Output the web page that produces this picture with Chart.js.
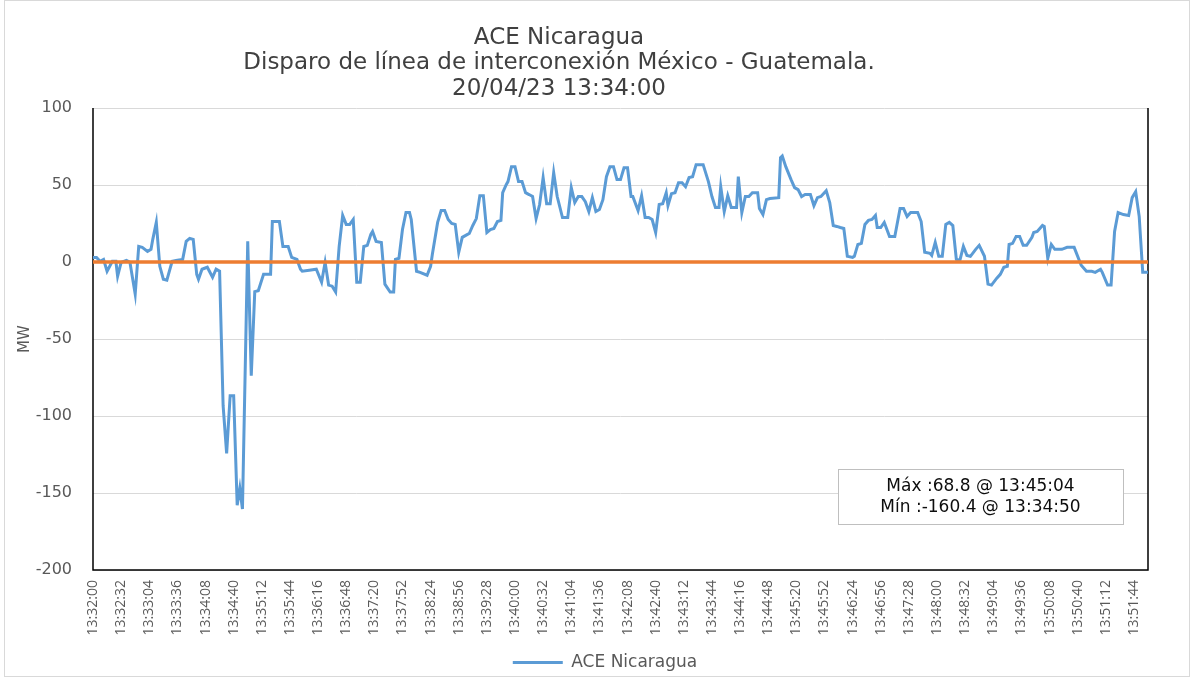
<!DOCTYPE html>
<html>
<head>
<meta charset="utf-8">
<title>ACE Nicaragua</title>
<script src="https://cdn.jsdelivr.net/npm/chart.js@4.4.1/dist/chart.umd.min.js"></script>
<style>
  html, body { margin: 0; padding: 0; background: #fff; }
  #wrap { width: 1194px; height: 677px; }
</style>
</head>
<body>
<div id="wrap"><canvas id="aceChart" width="1194" height="677"></canvas></div>
<script>
//! Chart data
const titleLines = ["ACE Nicaragua", "Disparo de línea de interconexión México - Guatemala.", "20/04/23 13:34:00"];
const startTime = "13:32:00";
const seriesName = "ACE Nicaragua";
const yAxisLabel = "MW";

// seconds after 13:32:00
const seconds = [0,4,8,12,16,22,26,28,32,38,42,48,52,56,62,66,68,72,76,80,84,90,96,102,106,110,114,118,120,124,
  130,136,140,144,148,152,156,160,164,167,170,176,180,184,188,194,202,204,212,216,222,226,232,236,238,246,254,260,264,268,
  272,276,280,284,288,292,296,300,304,308,312,316,318,322,328,332,338,342,344,348,352,356,360,362,368,372,380,384,386,392,
  396,400,404,408,412,416,420,426,428,432,436,440,444,448,452,456,460,464,466,470,472,476,480,484,488,492,496,500,504,508,
  512,516,520,524,528,534,540,544,548,552,556,560,564,568,572,576,580,584,588,592,596,600,604,608,612,614,620,624,628,632,
  636,640,644,648,652,654,658,662,666,670,674,678,682,686,694,700,704,708,712,714,718,722,726,732,734,738,742,746,750,756,
  758,762,766,770,780,782,784,788,794,798,802,806,810,816,820,824,828,834,838,842,846,850,854,858,864,866,870,874,878,882,
  886,890,892,896,900,906,912,918,922,926,930,938,942,946,952,954,958,962,966,970,974,978,982,986,990,994,998,1004,1008,1014,
  1018,1022,1028,1032,1036,1040,1042,1046,1050,1054,1058,1062,1068,1070,1074,1080,1082,1086,1090,1094,1102,1108,1116,1124,1130,1136,
  1140,1146,1148,1154,1158,1162,1166,1172,1178,1182,1186,1190,1194,1200];

const aceMW = [3.0,3.0,0.5,1.7,-6.0,0.5,0.5,-9.2,-0.2,1.1,-0.2,-20.9,10.1,9.5,6.9,8.2,14.7,25.7,-2.8,-11.2,-11.8,0.5,1.1,1.7,13.4,15.3,14.7,-8.0,-11.2,-4.7,
  -3.4,-9.9,-4.7,-6.0,-93.3,-124.3,-86.8,-86.8,-157.9,-146.9,-160.4,13.4,-73.9,-19.2,-18.6,-8.0,-8.0,26.3,26.3,10.1,10.1,3.0,1.7,-4.7,-6.0,-5.4,-4.7,-13.1,-0.2,-15.0,
  -15.7,-19.5,10.1,30.2,24.4,24.4,27.6,-13.1,-13.1,10.1,10.8,17.9,19.8,13.4,12.7,-14.4,-19.5,-19.5,1.7,2.4,21.1,32.1,32.1,27.6,-6.0,-6.7,-8.6,-2.8,5.0,25.7,
  33.4,33.4,27.6,25.0,24.4,6.3,16.0,17.9,18.5,23.7,28.2,43.1,43.1,19.2,21.1,21.8,26.3,27.0,45.0,50.2,52.2,61.9,61.9,52.2,52.2,45.0,43.8,42.5,28.2,37.3,
  54.8,37.9,37.9,58.0,42.5,28.9,28.9,48.3,38.6,42.5,42.5,39.2,32.8,41.8,32.8,34.1,40.5,55.4,61.9,61.9,53.5,53.5,61.2,61.2,42.5,42.5,33.4,43.1,28.9,28.9,
  27.6,19.2,37.3,37.9,45.0,36.6,44.4,45.0,51.5,51.5,48.9,54.8,55.4,63.2,63.2,52.2,42.5,35.4,35.4,48.9,32.8,43.1,35.4,35.4,55.4,32.1,42.5,42.5,45.0,45.0,
  34.7,30.8,40.5,41.2,41.8,67.7,68.8,61.9,53.5,48.3,47.0,42.5,43.8,43.8,36.6,41.8,42.5,46.3,38.6,23.7,23.1,22.4,21.8,3.7,3.0,3.7,11.4,12.1,24.4,27.0,
  27.6,30.2,22.4,22.4,25.7,16.6,16.6,34.7,34.7,29.5,32.1,32.1,26.3,6.3,5.6,4.3,12.7,3.7,3.7,24.4,25.7,23.7,1.7,1.1,10.1,4.3,3.7,8.2,10.8,3.7,
  -14.4,-15.0,-10.5,-8.0,-3.4,-2.8,11.4,12.1,16.6,16.6,10.8,10.8,16.0,19.2,19.8,23.7,23.1,2.4,11.4,8.2,8.2,9.5,9.5,-2.1,-6.0,-6.0,
  -6.7,-4.7,-6.7,-15.0,-15.0,19.8,32.1,30.8,30.2,41.8,45.7,29.5,-6.7,-6.7];

// reference line at 0 MW, from first to last second
const zeroSeconds = [0, 1200];
const zeroMW = [0, 0];

const yTicks = [-200, 100, 50];   // min, max, step
const xTickStep = 32;              // seconds between time labels

//! Helpers
function toClock(sec) {
    const [h, m, s] = startTime.split(":").map(Number);
    const t = h * 3600 + m * 60 + s + Math.round(sec);
    const pad = n => String(n).padStart(2, "0");
    return pad(Math.floor(t / 3600)) + ":" + pad(Math.floor(t / 60) % 60) + ":" + pad(t % 60);
}

const maxVal = Math.max(...aceMW);
const minVal = Math.min(...aceMW);
const boxLines = [
    "Máx :" + maxVal.toFixed(1) + " @ " + toClock(seconds[aceMW.indexOf(maxVal)]),
    "Mín :" + minVal.toFixed(1) + " @ " + toClock(seconds[aceMW.indexOf(minVal)])
];

const wideFont = '"DejaVu Sans", sans-serif';
const textGray = "#595959";

//! Title, plot frame and the max/min box
const decor = {
    id: "decor",
    afterLayout(chart) {
        // nudge the legend under the middle of the plot, like the original
        const lg = chart.legend;
        lg.left += 31; lg.right += 31;
        lg.top += 8; lg.bottom += 8;
    },
    beforeDraw(chart) {
        const { ctx, width, height } = chart;
        ctx.save();
        ctx.fillStyle = "#fff";
        ctx.fillRect(0, 0, width, height);
        ctx.strokeStyle = "#D9D9D9";
        ctx.lineWidth = 1;
        ctx.strokeRect(4.5, 0.5, width - 9, height - 1);
        ctx.restore();
    },
    beforeDatasetsDraw(chart) {
        const { ctx, chartArea: a } = chart;
        ctx.save();
        ctx.strokeStyle = "#000";
        ctx.lineWidth = 1.5;
        ctx.beginPath();
        ctx.moveTo(a.left, a.top);
        ctx.lineTo(a.left, a.bottom);
        ctx.lineTo(a.right, a.bottom);
        ctx.lineTo(a.right, a.top);
        ctx.stroke();
        ctx.restore();
    },
    afterDraw(chart) {
        const { ctx, chartArea: a } = chart;
        ctx.save();
        // title
        ctx.fillStyle = "#404040";
        ctx.font = "23px " + wideFont;
        ctx.textAlign = "center";
        ctx.textBaseline = "middle";
        titleLines.forEach((line, i) => ctx.fillText(line, 559, 38 + i * 25.5));

        // max / min box
        const bw = 285, bh = 55;
        const bx = a.right - 25 - bw;
        const by = a.bottom - 46 - bh;
        ctx.fillStyle = "#fff";
        ctx.fillRect(bx, by, bw, bh);
        ctx.strokeStyle = "#BFBFBF";
        ctx.lineWidth = 1;
        ctx.strokeRect(bx + 0.5, by + 0.5, bw, bh);
        ctx.fillStyle = "#0D0D0D";
        ctx.font = "17px " + wideFont;
        boxLines.forEach((line, i) => ctx.fillText(line, bx + bw / 2, by + 18 + i * 21));
        ctx.restore();
    }
};

const ctx = document.getElementById("aceChart").getContext("2d");
new Chart(ctx, {
    type: "line",
    data: {
        datasets: [{
            label: seriesName,
            data: seconds.map((s, i) => ({ x: s, y: aceMW[i] })),
            borderColor: "#5B9BD5",
            backgroundColor: "#5B9BD5",
            borderWidth: 3,
            pointRadius: 0,
            tension: 0,
            order: 1
        }, {
            label: "0",
            data: zeroSeconds.map((s, i) => ({ x: s, y: zeroMW[i] })),
            borderColor: "#ED7D31",
            borderWidth: 3.5,
            pointRadius: 0,
            order: 0
        }]
    },
    options: {
        responsive: false,
        animation: false,
        layout: { padding: { top: 108, right: 46, bottom: 4, left: 0 } },
        scales: {
            x: {
                type: "linear",
                min: zeroSeconds[0],
                max: zeroSeconds[1],
                grid: { display: false, drawTicks: false },
                border: { display: false },
                ticks: {
                    stepSize: xTickStep,
                    includeBounds: false,
                    autoSkip: false,
                    minRotation: 90,
                    maxRotation: 90,
                    padding: 10,
                    color: textGray,
                    font: { family: '"Open Sans", sans-serif', size: 14 },
                    callback: v => toClock(v)
                },
                afterFit: s => { s.height = 70; }
            },
            y: {
                min: yTicks[0],
                max: yTicks[1],
                grid: { color: "#D9D9D9", drawTicks: false },
                border: { display: false },
                ticks: {
                    stepSize: yTicks[2],
                    padding: 21,
                    color: textGray,
                    font: { family: wideFont, size: 16 }
                },
                title: {
                    display: true,
                    text: yAxisLabel,
                    color: textGray,
                    padding: { top: 16, bottom: 0 },
                    font: { family: wideFont, size: 15 }
                },
                afterFit: s => { s.width = 93; }
            }
        },
        plugins: {
            legend: {
                position: "bottom",
                labels: {
                    filter: item => item.datasetIndex === 0,
                    usePointStyle: true,
                    pointStyle: "line",
                    pointStyleWidth: 50,
                    padding: 6,
                    color: textGray,
                    font: { family: wideFont, size: 17 }
                }
            },
            tooltip: { enabled: false }
        }
    },
    plugins: [decor]
});
</script>
</body>
</html>
